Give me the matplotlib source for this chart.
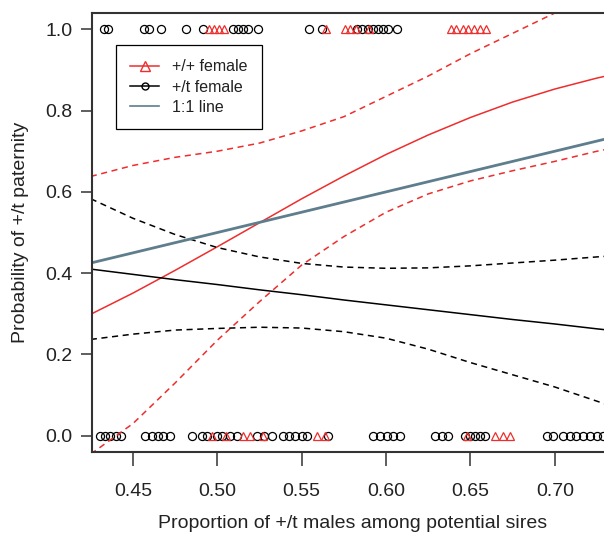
import matplotlib
matplotlib.use("Agg")
import matplotlib.pyplot as plt

plt.rcParams["font.family"] = ["Liberation Sans", "DejaVu Sans"]
plt.rcParams["text.color"] = "#222222"
plt.rcParams["axes.labelcolor"] = "#222222"
plt.rcParams["xtick.labelcolor"] = "#222222"
plt.rcParams["ytick.labelcolor"] = "#222222"

RED = "#ee2d2d"
BLUE = "#5e7e8d"

# proportion of +/t males among potential sires, per observed female (y = 0 / 1)
tt_x_1 = [0.433, 0.435, 0.4565, 0.4595, 0.4666, 0.4814, 0.4915, 0.5093, 0.5122,
          0.5152, 0.5181, 0.5240, 0.5543, 0.5620, 0.5830, 0.5860, 0.5890, 0.5920,
          0.5950, 0.5980, 0.6010, 0.6064]
pp_x_1 = [0.4950, 0.4980, 0.5010, 0.5040, 0.5643, 0.5756, 0.5786, 0.5820, 0.5900,
          0.6384, 0.6414, 0.6455, 0.6485, 0.6520, 0.6556, 0.6590]
tt_x_0 = [0.4305, 0.4334, 0.4364, 0.4400, 0.4429, 0.4570, 0.4610, 0.4648, 0.4678,
          0.4719, 0.4850, 0.4909, 0.4938, 0.4998, 0.5027, 0.5075, 0.5116, 0.5235,
          0.5276, 0.5323, 0.5389, 0.5424, 0.5460, 0.5501, 0.5530, 0.5655, 0.5922,
          0.5963, 0.6005, 0.6040, 0.6082, 0.6289, 0.6331, 0.6366, 0.6467, 0.6496,
          0.6526, 0.6556, 0.6585, 0.6953, 0.6988, 0.7047, 0.7089, 0.7124, 0.7166,
          0.7207, 0.7249, 0.7284]
pp_x_0 = [0.4968, 0.5050, 0.5152, 0.5193, 0.5270, 0.5590, 0.5637, 0.6479, 0.6644,
          0.6692, 0.6733]

# fitted curves
grid = [0.425, 0.45, 0.475, 0.50, 0.525, 0.55, 0.575, 0.60, 0.625, 0.65, 0.675,
        0.70, 0.725, 0.75]
pp_fit = [0.299, 0.351, 0.407, 0.465, 0.524, 0.583, 0.639, 0.692, 0.740, 0.783,
          0.821, 0.853, 0.880, 0.903]
pp_hi = [0.638, 0.665, 0.685, 0.700, 0.720, 0.750, 0.785, 0.835, 0.885, 0.940,
         0.990, 1.040, 1.090, 1.140]
pp_lo = [-0.045, 0.030, 0.130, 0.235, 0.330, 0.420, 0.490, 0.550, 0.595, 0.627,
         0.652, 0.675, 0.700, 0.720]
tt_fit = [0.410, 0.397, 0.384, 0.372, 0.359, 0.347, 0.334, 0.322, 0.310, 0.298,
          0.286, 0.275, 0.263, 0.252]
tt_hi = [0.583, 0.535, 0.495, 0.463, 0.440, 0.424, 0.415, 0.412, 0.413, 0.418,
         0.425, 0.432, 0.440, 0.447]
tt_lo = [0.237, 0.250, 0.260, 0.264, 0.267, 0.265, 0.256, 0.240, 0.213, 0.180,
         0.150, 0.120, 0.085, 0.050]
one_to_one = [0.40, 0.80]

fig = plt.figure(figsize=(6.04, 5.36), dpi=100)
ax = fig.add_axes([0.1523, 0.1567, 0.864, 0.819])

ax.plot(tt_x_1, [1] * len(tt_x_1), "o", mfc="none", mec="black", ms=5.8, mew=0.9,
        clip_on=False)
ax.plot(tt_x_0, [0] * len(tt_x_0), "o", mfc="none", mec="black", ms=5.8, mew=0.9,
        clip_on=False)
ax.plot(pp_x_1, [1] * len(pp_x_1), "^", mfc="none", mec=RED, ms=5.8, mew=0.9)
ax.plot(pp_x_0, [0] * len(pp_x_0), "^", mfc="none", mec=RED, ms=5.8, mew=0.9)

ax.plot(grid, pp_fit, color=RED, lw=1.1)
ax.plot(grid, pp_hi, color=RED, lw=1.1, ls=(0, (4, 3)))
ax.plot(grid, pp_lo, color=RED, lw=1.1, ls=(0, (4, 3)))
ax.plot(grid, tt_fit, color="black", lw=1.1)
ax.plot(grid, tt_hi, color="black", lw=1.1, ls=(0, (4, 3)))
ax.plot(grid, tt_lo, color="black", lw=1.1, ls=(0, (4, 3)))
ax.plot(one_to_one, one_to_one, color=BLUE, lw=2.0)

# legend handles
h_pp, = ax.plot([], [], color=RED, lw=1.1, marker="^", mfc="none", mec=RED, ms=7)
h_tt, = ax.plot([], [], color="black", lw=1.1, marker="o", mfc="none", mec="black", ms=5)
h_11, = ax.plot([], [], color=BLUE, lw=1.2)
leg = ax.legend([h_pp, h_tt, h_11], ["+/+ female", "+/t female", "1:1 line"],
                loc="upper left", bbox_to_anchor=(0.046, 0.927), borderaxespad=0,
                fontsize=11.5, fancybox=False, edgecolor="black", framealpha=1,
                handlelength=1.8, labelspacing=0.32, borderpad=0.9, handletextpad=0.8)
leg.get_frame().set_linewidth(0.9)

ax.set_xlim(0.4257, 0.735)
ax.set_ylim(-0.04, 1.04)
ax.set_xticks([0.45, 0.50, 0.55, 0.60, 0.65, 0.70])
ax.set_xticklabels(["0.45", "0.50", "0.55", "0.60", "0.65", "0.70"])
ax.set_yticks([0.0, 0.2, 0.4, 0.6, 0.8, 1.0])
ax.set_yticklabels(["0.0", "0.2", "0.4", "0.6", "0.8", "1.0"])
ax.tick_params(axis="x", length=10, width=1.1, pad=12, labelsize=14, color="#333333")
ax.tick_params(axis="y", length=8, width=1.1, pad=6, labelsize=14, color="#333333")
for s in ax.spines.values():
    s.set_linewidth(1.5)
    s.set_color("#333333")

ax.set_xlabel("Proportion of +/t males among potential sires", fontsize=14, labelpad=11)
ax.set_ylabel("Probability of +/t paternity", fontsize=14, labelpad=12)

fig.savefig("out.png", dpi=100)
